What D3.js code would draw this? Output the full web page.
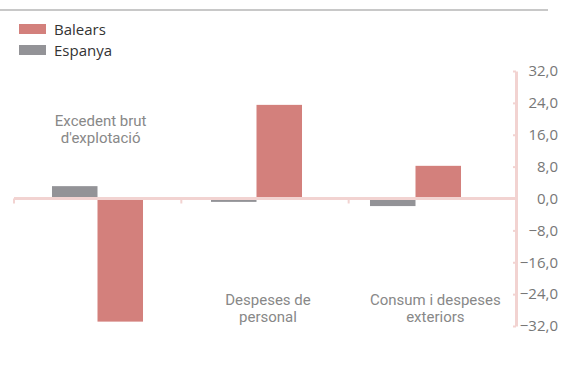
<!DOCTYPE html>
<html><head><meta charset="utf-8">
<script src="https://cdn.jsdelivr.net/npm/d3@7"></script>
<style>
body{margin:0;background:#fff;}
svg{display:block;font-family:"Open Sans",sans-serif;}
</style></head>
<body><svg id="c" width="561" height="376"></svg>
<script>
const categories = ["Excedent brut\nd'explotació", "Despeses de\npersonal", "Consum i despeses\nexteriors"];
const seriesNames = ["Espanya", "Balears"];
const espanya = [3.1, -0.85, -1.9];
const balears = [-30.9, 23.5, 8.2];
const tickValues = [-32, -24, -16, -8, 0, 8, 16, 24, 32];
const labelSide = ["top", "bottom", "bottom"];
const colors = {Balears: "#d3807c", Espanya: "#939397"};

const svg = d3.select("#c");
const axisColor = "#f2d3d1";

// category axis (ticks, labels)
const x = d3.scaleBand().domain(categories).range([14, 516]).padding(0);
// bar group placement
const xb = d3.scaleBand().domain(categories).range([18, 495]).padding(0);
const xs = d3.scaleBand().domain(seriesNames).range([0, xb.bandwidth()]).paddingOuter(0.747).paddingInner(0);
const y = d3.scaleLinear().domain([-32, 32]).range([326, 71]);

// top rule
svg.append("line").attr("x1", 0).attr("x2", 548).attr("y1", 10).attr("y2", 10)
  .attr("stroke", "#c8c8c8").attr("stroke-width", 2);

// legend
const legendItems = ["Balears", "Espanya"];
const lg = svg.append("g");
legendItems.forEach((name, i) => {
  lg.append("rect").attr("x", 19).attr("y", 24 + i * 21).attr("width", 27).attr("height", 10).attr("fill", colors[name]);
  lg.append("text").attr("x", 54).attr("y", 34.5 + i * 21).attr("font-size", 15).attr("fill", "#333").text(name);
});

// bars
const data = categories.map((c, i) => ({c, vals: [{k: "Espanya", v: espanya[i]}, {k: "Balears", v: balears[i]}]}));
const g = svg.append("g");
data.forEach(d => {
  g.selectAll(null).data(d.vals).enter().append("rect")
    .attr("x", e => xb(d.c) + xs(e.k))
    .attr("width", xs.bandwidth())
    .attr("y", e => y(Math.max(0, e.v)))
    .attr("height", e => Math.abs(y(e.v) - y(0)))
    .attr("fill", e => colors[e.k]);
});

// zero baseline with category boundary ticks
svg.append("line").attr("x1", x.range()[0]).attr("x2", x.range()[1]).attr("y1", y(0)).attr("y2", y(0))
  .attr("stroke", axisColor).attr("stroke-width", 3);
categories.forEach(c => {
  svg.append("line").attr("x1", x(c)).attr("x2", x(c)).attr("y1", y(0)).attr("y2", y(0) + 5)
    .attr("stroke", axisColor).attr("stroke-width", 2);
});

// y axis on right
const ax = svg.append("g").attr("transform", `translate(516,0)`)
  .call(d3.axisRight(y).tickValues(tickValues).tickSizeInner(-3).tickSizeOuter(0)
    .tickFormat(v => d3.format(".1f")(v).replace(".", ",")));
ax.select(".domain").attr("stroke", axisColor).attr("stroke-width", 3);
ax.selectAll(".tick line").attr("stroke", axisColor).attr("stroke-width", 2);
ax.selectAll(".tick text").attr("x", 42).attr("text-anchor", "end")
  .attr("font-size", 15).attr("fill", "#777").attr("font-family", "Open Sans, sans-serif");

// category labels
categories.forEach((c, i) => {
  const lines = c.split("\n");
  const cx = x(c) + x.bandwidth() / 2 + 3;
  const base = labelSide[i] === "top" ? 125.5 : 304.5;
  lines.forEach((l, j) => svg.append("text").attr("text-anchor", "middle")
    .attr("font-family", "Roboto, sans-serif").attr("font-size", 15).attr("fill", "#888")
    .attr("x", cx).attr("y", base + j * 17.5).text(l));
});
</script></body></html>
